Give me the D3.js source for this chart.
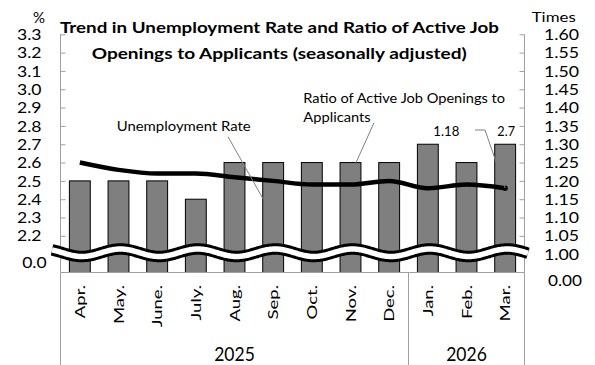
<!DOCTYPE html>
<html><head><meta charset="utf-8">
<script src="https://cdn.jsdelivr.net/npm/d3@7"></script>
<style>
html,body{margin:0;padding:0;background:#fff;}
svg{display:block;font-family:Lato,"Noto Sans",sans-serif;}
</style></head><body>
<svg id="c" width="595" height="365"></svg>
<script>
// ---- data ----
const months = ["Apr.","May.","June.","July.","Aug.","Sep.","Oct.","Nov.","Dec.","Jan.","Feb.","Mar."];
const years = ["2025","2026"];
const yearMonthCounts = [9,3];
const unemploymentRate = [2.5,2.5,2.5,2.4,2.6,2.6,2.6,2.6,2.6,2.7,2.6,2.7];
const jobRatio = [1.25,1.23,1.22,1.22,1.21,1.20,1.19,1.19,1.20,1.18,1.19,1.18];
const leftTicks = [2.2,2.3,2.4,2.5,2.6,2.7,2.8,2.9,3.0,3.1,3.2,3.3];
const rightTicks = [1.00,1.05,1.10,1.15,1.20,1.25,1.30,1.35,1.40,1.45,1.50,1.55,1.60];
const titleLines = ["Trend in Unemployment Rate and Ratio of Active Job","Openings to Applicants (seasonally adjusted)"];

// ---- layout ----
const svg = d3.select("#c");
svg.append("rect").attr("width",595).attr("height",365).attr("fill","#fff");
const X0 = 60.5, X1 = 524.5, YT = 34.3, YB = 272.5;
const AX = "#a0a0a0";

const x = d3.scaleBand().domain(months).range([X0,X1]).paddingInner(0.46).paddingOuter(0.23);
const yL = d3.scaleLinear().domain([2.0,3.3]).range([YB,YT]);
const yR = d3.scaleLinear().domain([0.95,1.60]).range([YB,YT]);
const bw = x.bandwidth(), step = x.step();
const cx = m => x(m) + bw/2;

function fit(sel, len){ sel.attr("textLength",len).attr("lengthAdjust","spacingAndGlyphs"); return sel; }

// bars
svg.append("g").selectAll("rect").data(months).join("rect")
  .attr("x", m => x(m)).attr("y", (m,i) => yL(unemploymentRate[i]))
  .attr("width", bw).attr("height", (m,i) => YB - yL(unemploymentRate[i]))
  .attr("fill","#7f7f7f").attr("stroke","#000").attr("stroke-width",1);

// axes
const gl = svg.append("g").attr("transform",`translate(${X0},0)`)
  .call(d3.axisLeft(yL).tickValues(leftTicks).tickSizeInner(-5).tickSizeOuter(0).tickPadding(19).tickFormat(d3.format(".1f")));
const gr = svg.append("g").attr("transform",`translate(${X1},0)`)
  .call(d3.axisRight(yR).tickValues(rightTicks).tickSizeInner(-5).tickSizeOuter(0).tickPadding(19.5).tickFormat(d3.format(".2f")));
[gl,gr].forEach(g=>{
  g.selectAll("path,line").attr("stroke",AX);
  g.selectAll("text").attr("font-size",16).attr("fill","#000").attr("font-family","Lato");
});
gl.selectAll(".tick text").each(function(){ fit(d3.select(this), 24.5); });
gr.selectAll(".tick text").each(function(){ fit(d3.select(this), 35); });
gl.select(".domain").attr("d",`M0,${YB}V${YT}`);
gr.select(".domain").attr("d",`M0,${YB}V${YT}`);

// bottom category area
const sep = x(months[9]) - step*x.paddingInner()/2;
const bottom = svg.append("g").attr("stroke",AX).attr("stroke-width",1);
bottom.append("line").attr("x1",X0).attr("x2",X1).attr("y1",YB).attr("y2",YB);
[X0, sep, X1].forEach(v => bottom.append("line").attr("x1",v).attr("x2",v).attr("y1",YB).attr("y2",365));

// month labels
svg.append("g").selectAll("text").data(months).join("text")
  .attr("transform", m => `translate(${cx(m)+5},285) rotate(-90)`)
  .attr("text-anchor","end").attr("font-size",14).attr("fill","#000")
  .text(m => m)
  .each(function(){ const l = this.getComputedTextLength(); fit(d3.select(this), l*1.32); });

// year labels
const yearBounds = [[X0, sep],[sep, X1]];
years.forEach((yv,i)=>{
  fit(svg.append("text").attr("x",(yearBounds[i][0]+yearBounds[i][1])/2).attr("y",361)
    .attr("text-anchor","middle").attr("font-size",19).attr("fill","#000").text(yv), 40.6);
});

// axis break wave
const waveX = d3.range(52, 528.5, 1);
const phase = cx(months[0]) + 2;
const wave = d3.line().x(d=>d).y(d => 252.75 + 3.75*Math.cos(2*Math.PI*(d - phase)/(2*step)));
svg.append("path").attr("d",wave(waveX)).attr("fill","none").attr("stroke","#000").attr("stroke-width",11.5);
svg.append("path").attr("d",wave(waveX)).attr("fill","none").attr("stroke","#fff").attr("stroke-width",5.5);

// break tick labels
fit(svg.append("text").attr("x",46.7).attr("y",263).attr("dy","0.32em").attr("text-anchor","end")
  .attr("font-size",16).attr("fill","#000").text("0.0"),24.5);
fit(svg.append("text").attr("x",548).attr("y",281).attr("dy","0.32em")
  .attr("font-size",16).attr("fill","#000").text("0.00"),34);

// unit labels
svg.append("text").attr("x",33).attr("y",23).attr("font-size",15).attr("fill","#000").text("%");
fit(svg.append("text").attr("x",531.7).attr("y",22).attr("font-size",14).attr("fill","#000").text("Times"),44);

// ratio line
const line = d3.line().x((d,i)=>cx(months[i])).y(d=>yR(d)).curve(d3.curveMonotoneX);
svg.append("path").attr("d",line(jobRatio)).attr("fill","none").attr("stroke","#000").attr("stroke-width",4.5);
svg.append("circle").attr("cx",cx(months[11])).attr("cy",yR(jobRatio[11])).attr("r",2.6).attr("fill","#000");

// title
fit(svg.append("text").attr("x",60).attr("y",33.3).attr("font-size",15).attr("font-weight","bold").attr("fill","#000").text(titleLines[0]),439);
fit(svg.append("text").attr("x",91.7).attr("y",59).attr("font-size",15).attr("font-weight","bold").attr("fill","#000").text(titleLines[1]),375);

// annotations
const lead = svg.append("g").attr("stroke","#808080").attr("stroke-width",1).attr("fill","none");
lead.append("path").attr("d","M228,136.7L263.3,199.3");
lead.append("path").attr("d","M374,122.7L356,162.7");
lead.append("path").attr("d",`M475,130H485L${cx(months[11])},${yR(jobRatio[11])}`);

const ann = svg.append("g").attr("font-size",14).attr("fill","#000");
fit(ann.append("text").attr("x",116.7).attr("y",130.7).text("Unemployment Rate"),134);
fit(ann.append("text").attr("x",303.3).attr("y",102.7).text("Ratio of Active Job Openings to"),201.7);
fit(ann.append("text").attr("x",303.3).attr("y",121.7).text("Applicants"),67.4);
fit(ann.append("text").attr("x",433.3).attr("y",135.7).text(d3.format(".2f")(jobRatio[11])),26);
fit(ann.append("text").attr("x",497.3).attr("y",135.7).text(d3.format(".1f")(unemploymentRate[11])),17.7);
</script>
</body></html>
